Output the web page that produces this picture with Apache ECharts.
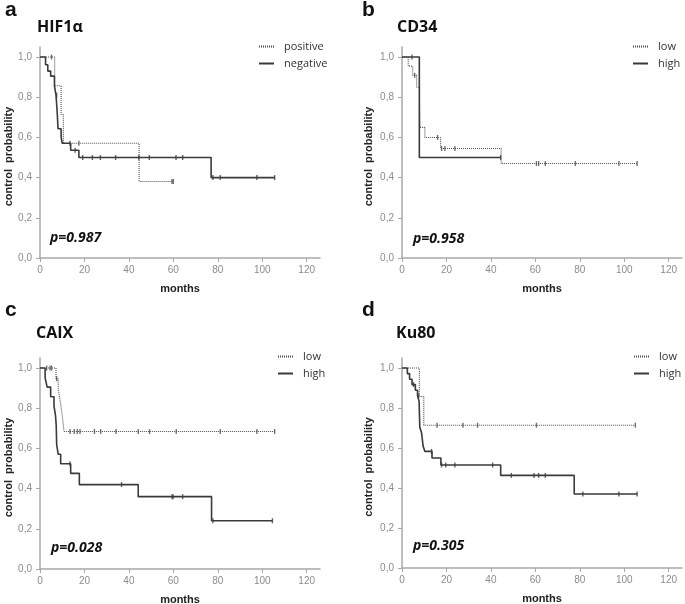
<!DOCTYPE html>
<html><head><meta charset="utf-8">
<script src="https://cdn.jsdelivr.net/npm/echarts@6/dist/echarts.min.js"></script>
<style>html,body{margin:0;padding:0;background:#fff}#c{width:685px;height:604px}</style>
</head><body><div id="c"></div>
<script>
// ---------- data ----------
const panelLetters = ['a', 'b', 'c', 'd'];
const panelTitles = ['HIF1α', 'CD34', 'CAIX', 'Ku80'];
const pValues = ['p=0.987', 'p=0.958', 'p=0.028', 'p=0.305'];
const groupNames = [['positive', 'negative'], ['low', 'high'], ['low', 'high'], ['low', 'high']];
const xTicks = [0, 20, 40, 60, 80, 100, 120];
const yTicks = [0, 0.2, 0.4, 0.6, 0.8, 1.0];
const xAxisName = 'months';
const yAxisName = 'control  probability';

// a: HIF1α  (dotted = positive, solid = negative)
const hifPosSteps = [[0,1],[6.6,0.857],[9.5,0.714],[10.5,0.571],[44.6,0.381],[60,0.381]];
const hifPosCensor = [[5.2,1],[17.5,0.571],[59.4,0.381],[60,0.381]];
const hifNegSteps = [[0,1],[2.5,0.962],[3.5,0.93],[4.8,0.905],[6.5,0.857],[7.2,0.81],[7.8,0.714],[8.1,0.643],[9.5,0.6],[10,0.571],[13.8,0.536],[17.5,0.5],[77,0.4],[105.6,0.4]];
const hifNegCensor = [[7.5,0.81],[13.5,0.571],[15.8,0.536],[19.2,0.5],[23.6,0.5],[27.2,0.5],[34,0.5],[44.5,0.5],[49.2,0.5],[61.2,0.5],[64.2,0.5],[77.8,0.4],[81.1,0.4],[97.6,0.4],[105.6,0.4]];

// b: CD34
const cd34LowSteps = [[0,1],[2.8,0.955],[4.8,0.909],[6.6,0.85],[7.9,0.75],[8.1,0.65],[10.3,0.6],[17.4,0.545],[44.6,0.47],[105.8,0.47]];
const cd34LowCensor = [[5.7,0.909],[16,0.6],[17.8,0.545],[19.3,0.545],[23.8,0.545],[60.5,0.47],[61.5,0.47],[64.5,0.47],[78,0.47],[97.6,0.47],[105.8,0.47]];
const cd34HighSteps = [[0,1],[7.8,0.5],[44.4,0.5]];
const cd34HighCensor = [[4.5,1],[44.4,0.5]];

// c: CAIX
const caixLowSteps = [[0,1],[7.2,0.947],[8.2,0.895],[9,0.842],[9.7,0.789],[10.3,0.737],[10.8,0.684],[105.6,0.684]];
const caixLowCensor = [[3,1],[4.5,1],[5.2,1],[7.5,0.947],[13.5,0.684],[15.4,0.684],[16.8,0.684],[18,0.684],[24.5,0.684],[27.3,0.684],[34.2,0.684],[44.2,0.684],[49.3,0.684],[61.3,0.684],[81.1,0.684],[97.6,0.684],[105.6,0.684]];
const caixHighSteps = [[0,1],[2.3,0.952],[3.2,0.905],[4.8,0.857],[6.3,0.81],[7,0.762],[7.3,0.714],[7.5,0.619],[8.2,0.571],[9.3,0.524],[13.8,0.476],[17.7,0.42],[44.2,0.36],[77.2,0.24],[104.6,0.24]];
const caixHighCensor = [[13.5,0.524],[36.7,0.42],[59.4,0.36],[59.9,0.36],[64.2,0.36],[77.8,0.24],[104.6,0.24]];

// d: Ku80
const ku80LowSteps = [[0,1],[7.8,0.857],[9.8,0.714],[105,0.714]];
const ku80LowCensor = [[15.8,0.714],[27.4,0.714],[34,0.714],[60.5,0.714],[105,0.714]];
const ku80HighSteps = [[0,1],[2.4,0.972],[3.4,0.944],[4.5,0.917],[6,0.889],[7,0.861],[7.7,0.833],[8,0.704],[8.8,0.676],[9.5,0.61],[10.3,0.583],[13.5,0.55],[17.5,0.515],[44.4,0.463],[77.5,0.37],[105.8,0.37]];
const ku80HighCensor = [[5.2,0.917],[7.4,0.861],[13.3,0.583],[17.8,0.515],[19.7,0.515],[23.8,0.515],[40.8,0.515],[49.2,0.463],[59.4,0.463],[61.5,0.463],[64.5,0.463],[81.4,0.37],[97.6,0.37],[105.8,0.37]];

const panelData = [
  [hifPosSteps, hifPosCensor, hifNegSteps, hifNegCensor],
  [cd34LowSteps, cd34LowCensor, cd34HighSteps, cd34HighCensor],
  [caixLowSteps, caixLowCensor, caixHighSteps, caixHighCensor],
  [ku80LowSteps, ku80LowCensor, ku80HighSteps, ku80HighCensor]
];

// ---------- layout ----------
const X_MAX = 126, Y_MAX = 1.05;
const grids = [
  {left: 40, top: 47, width: 280, height: 211},
  {left: 402, top: 47, width: 280, height: 211},
  {left: 40, top: 358, width: 280, height: 211},
  {left: 402, top: 358, width: 280, height: 210}
];
const yNameGaps = [25, 28, 25, 28];
const letterPos = [[5, 0], [362, 0], [5, 300], [362, 300]];
const titlePos = [[37, 19], [397, 19], [36, 325], [396, 325]];
const pPos = [[50, 231], [413, 232], [51, 541], [413, 539]];
const legendPos = [[258, 41], [632, 41], [277, 351], [633, 351]];

const AXIS_COLOR = '#a8a8a8';
const LABEL_COLOR = '#8c8c8c';
const SOLID_COLOR = '#3a3a3a';
const DOT_COLOR = '#4e4e4e';

const fmtY = v => v.toFixed(1).replace('.', ',');

const option = {
  animation: false,
  backgroundColor: '#fff',
  title: [],
  legend: [],
  grid: grids.map(g => Object.assign({containLabel: false, outerBoundsMode: 'none'}, g)),
  xAxis: [],
  yAxis: [],
  series: []
};

for (let i = 0; i < 4; i++) {
  option.title.push({text: panelLetters[i], left: letterPos[i][0], top: letterPos[i][1], padding: 0,
    textStyle: {fontFamily: 'Liberation Sans', fontWeight: 'bold', fontSize: 21, color: '#111'}});
  option.title.push({text: panelTitles[i], left: titlePos[i][0], top: titlePos[i][1], padding: 0,
    textStyle: {fontFamily: 'Open Sans', fontWeight: 'bold', fontSize: 16, color: '#111'}});
  option.title.push({text: pValues[i], left: pPos[i][0], top: pPos[i][1], padding: 0,
    textStyle: {fontFamily: 'Open Sans', fontWeight: 'bold', fontStyle: 'italic', fontSize: 14, color: '#111'}});

  option.xAxis.push({
    type: 'value', gridIndex: i, min: 0, max: X_MAX,
    name: xAxisName, nameLocation: 'middle', nameGap: 25,
    nameTextStyle: {fontFamily: 'Liberation Sans', fontWeight: 'bold', fontSize: 11, color: '#222'},
    axisLine: {show: true, lineStyle: {color: AXIS_COLOR, width: 1.5}},
    axisTick: {show: true, length: 4, customValues: xTicks, lineStyle: {color: AXIS_COLOR}},
    axisLabel: {customValues: xTicks, margin: 7, color: LABEL_COLOR, fontSize: 10, fontFamily: 'Liberation Sans'},
    splitLine: {show: false}
  });
  option.yAxis.push({
    type: 'value', gridIndex: i, min: 0, max: Y_MAX,
    name: yAxisName, nameLocation: 'middle', nameGap: yNameGaps[i],
    nameTextStyle: {fontFamily: 'Liberation Sans', fontWeight: 'bold', fontSize: 11, color: '#222', padding: [0, 0, 0, -8]},
    axisLine: {show: true, lineStyle: {color: AXIS_COLOR, width: 1.5}},
    axisTick: {show: true, length: 4, customValues: yTicks, lineStyle: {color: AXIS_COLOR}},
    axisLabel: {customValues: yTicks, margin: 8, color: LABEL_COLOR, fontSize: 10, fontFamily: 'Liberation Sans', formatter: fmtY},
    splitLine: {show: false}
  });

  const [dSteps, dCens, sSteps, sCens] = panelData[i];
  const names = groupNames[i];
  option.series.push({
    type: 'line', name: names[0], xAxisIndex: i, yAxisIndex: i, data: dSteps, step: 'end',
    symbol: 'none', lineStyle: {color: DOT_COLOR, width: 1.1, type: [1, 1]}, itemStyle: {color: DOT_COLOR}
  });
  option.series.push({
    type: 'line', name: names[1], xAxisIndex: i, yAxisIndex: i, data: sSteps, step: 'end',
    symbol: 'none', lineStyle: {color: SOLID_COLOR, width: 1.6}, itemStyle: {color: SOLID_COLOR}
  });
  option.series.push({
    type: 'scatter', xAxisIndex: i, yAxisIndex: i, data: dCens, symbol: 'rect', symbolSize: [1.4, 5],
    itemStyle: {color: DOT_COLOR}, silent: true
  });
  option.series.push({
    type: 'scatter', xAxisIndex: i, yAxisIndex: i, data: sCens, symbol: 'rect', symbolSize: [1.4, 5],
    itemStyle: {color: SOLID_COLOR}, silent: true
  });

  option.legend.push({
    left: legendPos[i][0], top: legendPos[i][1], orient: 'vertical', padding: 0,
    itemWidth: 15, itemHeight: 10, itemGap: 6, data: names, selectedMode: false,
    itemStyle: {opacity: 0},
    textStyle: {fontFamily: 'Open Sans', fontSize: 11, color: '#333', padding: [0, 0, 0, 5]}
  });
}

const chart = echarts.init(document.getElementById('c'), null, {renderer: 'canvas'});
chart.setOption(option);
</script>
</body></html>
